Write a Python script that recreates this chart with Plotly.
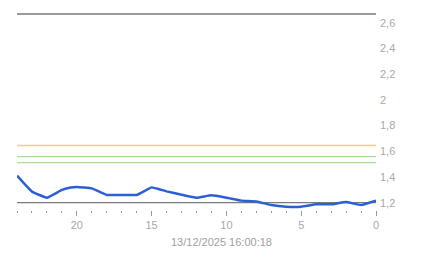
import plotly.graph_objects as go

hours_ago = [24, 23, 22, 21, 20.4, 20, 19, 18, 17, 16, 15, 14.5, 14, 13, 12, 11, 10, 9, 8, 7, 6, 5, 4, 3, 2, 1, 0]
values = [1.41, 1.286, 1.239, 1.299, 1.318, 1.322, 1.311, 1.26, 1.26, 1.26, 1.319, 1.305, 1.288, 1.262, 1.239, 1.257, 1.239,
          1.216, 1.21, 1.182, 1.169, 1.169, 1.187, 1.187, 1.205, 1.182, 1.216]

ref_levels = [1.645, 1.558, 1.511]
ref_colors = ["#e9d27c", "#a9dd9c", "#a9dd9c"]
base_level = 1.2
y_ticks = [1.2, 1.4, 1.6, 1.8, 2.0, 2.2, 2.4, 2.6]
x_title = "13/12/2025 16:00:18"

fig = go.Figure()
fig.add_trace(go.Scatter(x=hours_ago, y=values, mode="lines",
                         line=dict(color="#2c5fd6", width=2.5, shape="spline", smoothing=0.3),
                         hoverinfo="skip", showlegend=False))

shapes = []
for lvl, col in zip(ref_levels, ref_colors):
    shapes.append(dict(type="line", xref="paper", yref="y", x0=0, x1=1, y0=lvl, y1=lvl,
                       line=dict(color=col, width=1.3), layer="below"))
shapes.append(dict(type="line", xref="paper", yref="y", x0=0, x1=1, y0=base_level, y1=base_level,
                   line=dict(color="#7a7a7a", width=1.3), layer="below"))
shapes.append(dict(type="line", xref="paper", yref="paper", x0=0, x1=1, y0=1, y1=1,
                   line=dict(color="#7a7a7a", width=1.5)))

fig.update_layout(
    width=443, height=258,
    margin=dict(l=17, r=67, t=14, b=48),
    paper_bgcolor="white", plot_bgcolor="white",
    separators=",.",
    font=dict(family="Liberation Sans, Arial, sans-serif", size=11, color="#a8a8a8"),
    shapes=shapes,
    annotations=[dict(text=x_title, xref="paper", yref="paper", x=0.5696, y=-0.163,
                      xanchor="center", yanchor="middle", showarrow=False,
                      font=dict(size=11, color="#a0a0a0"))],
    xaxis=dict(range=[24, 0], showgrid=False, zeroline=False, showline=False,
               tickmode="array", tickvals=[20, 15, 10, 5, 0], ticktext=["20", "15", "10", "5", "0"],
               ticks="outside", ticklen=5, tickwidth=1, tickcolor="#999",
               minor=dict(dtick=1, tick0=0, ticks="outside", ticklen=2, tickwidth=1, tickcolor="#999"),
               fixedrange=True),
    yaxis=dict(range=[1.143, 2.668], side="right", showgrid=False, zeroline=False, showline=False,
               tickmode="array", tickvals=y_ticks, ticks="", ticklabelstandoff=3,
               tickformat=".1~f", fixedrange=True),
)

fig.write_html("out.html")
